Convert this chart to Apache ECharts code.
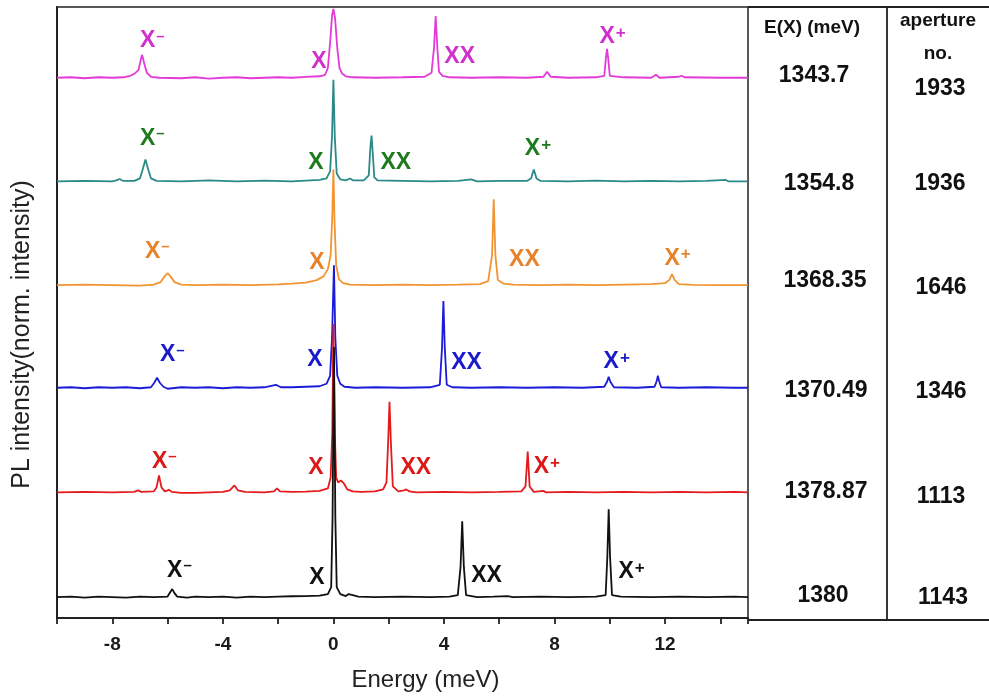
<!DOCTYPE html>
<html>
<head>
<meta charset="utf-8">
<script src="https://cdn.jsdelivr.net/npm/echarts@6/dist/echarts.min.js"></script>
<style>
html,body{margin:0;padding:0;background:#fff;}
#chart{width:989px;height:697px;}
</style>
</head>
<body>
<div id="chart"></div>
<script>
// ---------------- data ----------------
const energyRange = [-10, 15];
const xTickLabels = [-8, -4, 0, 4, 8, 12];
const seriesNames = ['aperture 1933', 'aperture 1936', 'aperture 1646', 'aperture 1346', 'aperture 1113', 'aperture 1143'];
const baselineOffsets = [5.42, 4.38, 3.34, 2.31, 1.26, 0.21];
const energyX = ['1343.7', '1354.8', '1368.35', '1370.49', '1378.87', '1380'];
const apertureNo = ['1933', '1936', '1646', '1346', '1113', '1143'];
const peakNames = ['X-', 'X', 'XX', 'X+'];

// spectra: [energy (meV), normalized intensity above baseline]
const magentaSpectrum = [
  [-10,0],[-9.5,0.005],[-9,-0.005],[-8.5,0.005],[-8,0],[-7.6,0.005],[-7.35,0.02],[-7.2,0.04],[-7.05,0.08],
  [-6.97,0.18],[-6.92,0.23],[-6.85,0.15],[-6.75,0.05],[-6.6,0.01],[-6.3,0],[-5.5,-0.005],[-5,0.005],[-4.5,-0.008],
  [-4,0],[-3.5,0.005],[-3,-0.005],[-2.5,0],[-2,0.005],[-1.5,0],[-1,0.008],[-0.5,0.015],[-0.3,0.03],[-0.2,0.1],
  [-0.12,0.35],[-0.05,0.62],[0,0.69],[0.06,0.6],[0.14,0.3],[0.22,0.1],[0.32,0.04],[0.45,0.015],[0.7,0.005],[1.5,0],
  [2.5,0.005],[3.3,0.01],[3.55,0.05],[3.64,0.3],[3.7,0.62],[3.76,0.3],[3.82,0.06],[3.95,0.02],[4.2,0.005],[5,0],
  [6,0.005],[7,0],[7.6,0.01],[7.73,0.06],[7.86,0.01],[8.5,0],[9.5,0.005],[9.8,0.02],[9.86,0.2],[9.9,0.29],
  [9.94,0.2],[10.0,0.02],[10.5,0.005],[11.5,0],[11.67,0.03],[11.8,0],[12.5,0.01],[12.6,0.02],[12.7,0.005],[14,0],[15,0]
];
const tealSpectrum = [
  [-10,0],[-9,0.005],[-8,0],[-7.85,0.01],[-7.74,0.025],[-7.6,0.005],[-7.2,0.005],[-7.0,0.03],[-6.9,0.12],[-6.8,0.22],
  [-6.7,0.12],[-6.6,0.03],[-6.4,0.005],[-5.5,0],[-4.5,0.01],[-3.5,0],[-2.5,0.008],[-1.5,0],[-1,0.008],[-0.5,0.015],
  [-0.25,0.03],[-0.12,0.1],[-0.05,0.45],[0,1.02],[0.05,0.45],[0.12,0.08],[0.25,0.02],[0.45,0.01],[0.6,0.03],[0.72,0.01],
  [1.1,0.01],[1.28,0.06],[1.34,0.35],[1.38,0.46],[1.42,0.3],[1.48,0.04],[1.6,0.01],[2.5,0.005],[3.5,0],[4.5,0.005],
  [4.99,0.02],[5.2,0],[6,0.005],[7,0.005],[7.15,0.03],[7.25,0.12],[7.35,0.03],[7.5,0.005],[8.5,0],[9.5,0.008],
  [10.5,0],[11.5,0.005],[12.5,0],[13.5,0.005],[14.2,0.015],[14.3,0],[15,0]
];
const orangeSpectrum = [
  [-10,0],[-9,0.005],[-8,0],[-7,-0.005],[-6.5,0.005],[-6.25,0.03],[-6.1,0.09],[-6.0,0.12],[-5.9,0.09],[-5.75,0.03],
  [-5.5,0.005],[-5,0],[-4,0.005],[-3,0],[-2,0.008],[-1.5,0.015],[-1,0.025],[-0.6,0.05],[-0.35,0.09],[-0.2,0.16],
  [-0.1,0.3],[-0.04,0.7],[0,1.16],[0.04,0.65],[0.1,0.2],[0.2,0.06],[0.35,0.02],[0.6,0.005],[1.5,0],[2.5,0.005],
  [3.5,0],[4.5,0.005],[5.3,0.01],[5.6,0.04],[5.74,0.3],[5.8,0.86],[5.86,0.3],[5.95,0.05],[6.15,0.015],[6.5,0.005],
  [7.5,0],[8.5,0.005],[9.5,0],[10.5,0.005],[11.5,0.01],[12.0,0.02],[12.15,0.05],[12.25,0.11],[12.35,0.05],[12.5,0.01],
  [13,0.003],[14,0],[15,0]
];
const blueSpectrum = [
  [-10,0],[-9.5,0.005],[-9,-0.005],[-8.5,0.005],[-8,0],[-7.5,0.005],[-7,-0.005],[-6.6,0.005],[-6.48,0.05],[-6.38,0.1],
  [-6.28,0.05],[-6.15,0.01],[-6,-0.01],[-5.5,0.005],[-5,0],[-4.5,0.005],[-4,-0.005],[-3.5,0.005],[-3,0],[-2.5,0.005],
  [-2.08,0.03],[-1.9,0.005],[-1.5,0.005],[-1,0.01],[-0.5,0.015],[-0.25,0.04],[-0.12,0.12],[-0.05,0.5],[0.02,1.23],
  [0.07,0.5],[0.14,0.12],[0.25,0.04],[0.4,0.01],[0.8,0],[1.5,0.005],[2.5,0],[3.5,0.005],[3.85,0.03],[3.93,0.4],
  [3.98,0.87],[4.03,0.4],[4.1,0.03],[4.3,0.005],[5,0],[6,0.005],[7,0],[8,0.005],[9,0],[9.8,0.01],[9.9,0.06],
  [9.96,0.11],[10.02,0.06],[10.15,0.005],[11,0],[11.62,0.01],[11.7,0.07],[11.74,0.12],[11.78,0.07],[11.86,0.005],
  [12.5,0],[13.5,0.005],[14.5,0],[15,0]
];
const redSpectrum = [
  [-10,0],[-9,0.005],[-8,0],[-7.2,0.005],[-7.07,0.02],[-6.95,0.005],[-6.5,0.01],[-6.4,0.05],[-6.31,0.17],[-6.22,0.05],
  [-6.1,0.01],[-5.94,0.025],[-5.85,0.005],[-5.5,-0.005],[-5,-0.005],[-4.5,0],[-4,0.005],[-3.75,0.02],[-3.58,0.07],
  [-3.45,0.02],[-3.2,0.005],[-2.5,0],[-2.15,0.01],[-2.04,0.04],[-1.93,0.01],[-1.5,0.005],[-1,0.008],[-0.5,0.015],
  [-0.2,0.04],[-0.1,0.15],[-0.04,0.6],[0,1.69],[0.05,0.6],[0.1,0.15],[0.17,0.1],[0.27,0.12],[0.38,0.09],[0.5,0.03],
  [0.7,0.01],[1,0.005],[1.5,0.01],[1.8,0.03],[1.92,0.1],[1.98,0.5],[2.03,0.91],[2.08,0.5],[2.15,0.06],[2.35,0.01],
  [2.55,0.02],[2.64,0.03],[2.75,0.01],[3,0],[4,0.005],[5,0],[6,0.005],[6.8,0.01],[6.95,0.06],[7.03,0.41],[7.1,0.06],
  [7.25,0.005],[7.6,0.015],[7.7,0],[8.5,0.005],[9.5,0],[10.5,0.005],[11.5,0],[12.5,0.005],[13.5,0],[14.5,0.005],[15,0]
];
const blackSpectrum = [
  [-10,0],[-9.5,0.005],[-9,-0.005],[-8.5,0.005],[-8,0],[-7.5,-0.005],[-7,0.005],[-6.5,0],[-6.0,0.005],[-5.9,0.05],
  [-5.83,0.08],[-5.75,0.04],[-5.65,0.005],[-5.3,-0.005],[-5,0.005],[-4.5,0],[-4,0.005],[-3.5,-0.005],[-3,0.005],
  [-2.5,0],[-2,0.005],[-1.5,0.008],[-1,0.01],[-0.5,0.015],[-0.2,0.03],[-0.08,0.1],[-0.03,0.8],[0.02,2.51],[0.07,0.8],
  [0.12,0.1],[0.25,0.03],[0.45,0.01],[0.55,0.03],[0.61,0.05],[0.7,0.02],[0.9,0.005],[1.5,0],[2.5,0.005],[3.5,0],
  [4.2,0.005],[4.5,0.02],[4.6,0.3],[4.66,0.76],[4.72,0.3],[4.8,0.02],[5.2,0],[5.8,0.005],[6.3,0.01],[6.5,0],
  [7.5,0.005],[8.5,0],[9.5,0.005],[9.85,0.02],[9.91,0.4],[9.96,0.88],[10.01,0.4],[10.08,0.02],[10.4,0.005],[11.5,0],
  [12.5,0.005],[13.5,0],[14.5,0.005],[15,0]
];
const spectra = [magentaSpectrum, tealSpectrum, orangeSpectrum, blueSpectrum, redSpectrum, blackSpectrum];

// ---------------- layout / style ----------------
// label anchors [energy, height above baseline] for X-, X, XX, X+
const labelAnchors = [
  [[-6.55,0.37],[-0.52,0.16],[4.57,0.21],[10.1,0.41]],
  [[-6.55,0.43],[-0.63,0.19],[2.26,0.19],[7.4,0.33]],
  [[-6.37,0.34],[-0.60,0.23],[6.91,0.26],[12.45,0.27]],
  [[-5.83,0.33],[-0.67,0.28],[4.82,0.25],[10.25,0.26]],
  [[-6.12,0.31],[-0.63,0.25],[2.98,0.25],[7.72,0.26]],
  [[-5.57,0.27],[-0.60,0.19],[5.54,0.21],[10.79,0.25]]
];
const lineColors = ['#e43ad8', '#2a8a88', '#f29432', '#1b1bd8', '#e41a1c', '#111111'];
const labelColors = ['#d030cc', '#1d7a1f', '#e8822a', '#1a1acc', '#dc1818', '#111111'];
const FONT = 'Liberation Sans, Arial, sans-serif';

const chart = echarts.init(document.getElementById('chart'), null, {renderer: 'canvas'});

function labelText(name) {
  if (name === 'X-') return '{m|X}{s|\u2013}';
  if (name === 'X+') return '{m|X}{p|+}';
  return '{m|' + name + '}';
}

const series = [];
spectra.forEach((spec, i) => {
  series.push({
    name: seriesNames[i],
    type: 'line',
    showSymbol: false,
    symbol: 'none',
    smooth: false,
    animation: false,
    lineStyle: {color: lineColors[i], width: 1.8},
    data: spec.map(p => [p[0], baselineOffsets[i] + p[1]]),
    z: 2 + i
  });
});
spectra.forEach((spec, i) => {
  series.push({
    type: 'scatter',
    symbolSize: 0,
    animation: false,
    silent: true,
    z: 10,
    itemStyle: {opacity: 1, color: labelColors[i]},
    data: labelAnchors[i].map((a, k) => ({value: [a[0], baselineOffsets[i] + a[1]], name: peakNames[k]})),
    label: {
      show: true,
      position: 'inside',
      opacity: 1,
      formatter: p => labelText(p.name),
      rich: {
        m: {fontFamily: FONT, fontWeight: 'bold', fontSize: 23, color: labelColors[i], opacity: 1, lineHeight: 24},
        s: {fontFamily: FONT, fontWeight: 'bold', fontSize: 15, color: labelColors[i], opacity: 1, verticalAlign: 'top', lineHeight: 12, padding: [0,0,0,1]},
        p: {fontFamily: FONT, fontWeight: 'bold', fontSize: 17, color: labelColors[i], opacity: 1, verticalAlign: 'top', lineHeight: 12, padding: [0,0,0,1]}
      }
    }
  });
});

const gridLeft = 57, gridTop = 7, gridRight = 241, gridBottom = 77;

chart.setOption({
  animation: false,
  backgroundColor: '#fff',
  grid: {left: gridLeft, top: gridTop, right: gridRight, bottom: gridBottom, show: true, borderColor: '#222', borderWidth: 1.5, backgroundColor: 'transparent'},
  xAxis: {
    type: 'value',
    min: energyRange[0], max: energyRange[1], interval: 2,
    name: 'Energy (meV)', nameLocation: 'middle', nameGap: 50,
    nameTextStyle: {fontFamily: FONT, fontSize: 24, color: '#222', padding: [0, 0, 0, 46]},
    axisLine: {onZero: false, lineStyle: {color: '#222', width: 2}},
    axisTick: {show: true, inside: false, length: 6, lineStyle: {color: '#222', width: 1.8}},
    splitLine: {show: false},
    axisLabel: {
      margin: 17, fontFamily: FONT, fontWeight: 'bold', fontSize: 19, color: '#1a1a1a',
      formatter: v => (xTickLabels.indexOf(v) >= 0 ? String(v) : '')
    }
  },
  yAxis: {
    type: 'value', min: 0, max: 6.13,
    name: 'PL intensity(norm. intensity)', nameLocation: 'middle', nameGap: 22,
    nameTextStyle: {fontFamily: FONT, fontSize: 25, color: '#222', padding: [0, 44, 0, 0]},
    axisLine: {show: true, onZero: false, lineStyle: {color: '#222', width: 2}},
    axisTick: {show: false}, axisLabel: {show: false}, splitLine: {show: false}
  },
  series: series
});

// ---------------- table on the right ----------------
const tableLeft = 989 - gridRight, col2 = 887, W = 989;
const topY = gridTop, botY = 697 - gridBottom;
const g = [];
const lineStyle = {stroke: '#222', lineWidth: 1.8};
g.push({type: 'line', shape: {x1: tableLeft, y1: topY, x2: W, y2: topY}, style: lineStyle});
g.push({type: 'line', shape: {x1: tableLeft, y1: botY, x2: W, y2: botY}, style: lineStyle});
g.push({type: 'line', shape: {x1: col2, y1: topY, x2: col2, y2: botY}, style: lineStyle});
const headStyle = {fontFamily: FONT, fontWeight: 'bold', fontSize: 19, fill: '#111', align: 'center', verticalAlign: 'middle'};
g.push({type: 'text', x: 812, y: 28, style: Object.assign({text: 'E(X) (meV)'}, headStyle)});
g.push({type: 'text', x: 938, y: 21, style: Object.assign({text: 'aperture'}, headStyle)});
g.push({type: 'text', x: 938, y: 54, style: Object.assign({text: 'no.'}, headStyle)});
const eCx = [814, 819, 825, 826, 826, 823];
const eDy = [-2.5, 2, -4.5, 2.5, -0.5, -1];
const apCx = [940, 940, 941, 941, 941, 943];
const apDy = [10.5, 2, 2.5, 3.5, 4.5, 1];
const cellStyle = {fontFamily: FONT, fontWeight: 'bold', fontSize: 23, fill: '#111', align: 'center', verticalAlign: 'middle'};
energyX.forEach((t, i) => {
  const y = chart.convertToPixel({yAxisIndex: 0}, baselineOffsets[i]);
  g.push({type: 'text', x: eCx[i], y: y + eDy[i], style: Object.assign({text: t}, cellStyle)});
  g.push({type: 'text', x: apCx[i], y: y + apDy[i], style: Object.assign({text: apertureNo[i]}, cellStyle)});
});
chart.setOption({graphic: g});
</script>
</body>
</html>
